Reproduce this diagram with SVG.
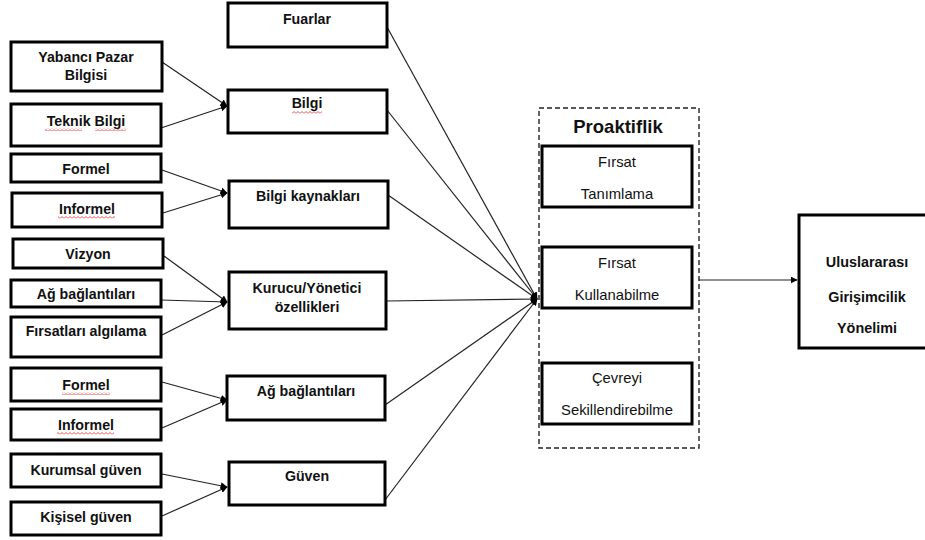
<svg xmlns="http://www.w3.org/2000/svg" width="925" height="540" viewBox="0 0 925 540">
<style>
.box{fill:#fff;stroke:#000;stroke-width:3}
.inner{fill:#fff;stroke:#000;stroke-width:3}
.t{font-family:"Liberation Sans",Arial,sans-serif;font-size:14.2px;font-weight:bold;fill:#111;text-anchor:middle}
.tm{font-family:"Liberation Sans",Arial,sans-serif;font-size:14.2px;font-weight:bold;fill:#111;text-anchor:middle}
.tn{font-family:"Liberation Sans",Arial,sans-serif;font-size:14.8px;fill:#111;text-anchor:middle}
.tu{font-family:"Liberation Sans",Arial,sans-serif;font-size:14.4px;font-weight:bold;fill:#111;text-anchor:middle}
.title{font-family:"Liberation Sans",Arial,sans-serif;font-size:18.5px;font-weight:bold;fill:#111;text-anchor:middle}
.c{fill:none;stroke:#222;stroke-width:1.2}
.dash{fill:none;stroke:#222;stroke-width:1.4;stroke-dasharray:5,3}
</style>
<defs>
<marker id="ah" viewBox="0 0 10 10" refX="9" refY="5" markerWidth="7" markerHeight="7" markerUnits="userSpaceOnUse" orient="auto">
<path d="M0,0 L10,5 L0,10 z" fill="#000"/>
</marker>
<pattern id="wave" width="4" height="3" patternUnits="userSpaceOnUse">
<path d="M0,2.5 L2,0.5 L4,2.5" fill="none" stroke="#e02020" stroke-width="0.8"/>
</pattern>
</defs>

<g id="connectors">
<line class="c" x1="162" y1="62" x2="227" y2="106" marker-end="url(#ah)"/>
<line class="c" x1="161" y1="128" x2="227" y2="106" marker-end="url(#ah)"/>
<line class="c" x1="162" y1="170" x2="227" y2="193" marker-end="url(#ah)"/>
<line class="c" x1="163" y1="213" x2="227" y2="193" marker-end="url(#ah)"/>
<line class="c" x1="164" y1="256" x2="227" y2="302" marker-end="url(#ah)"/>
<line class="c" x1="161" y1="300" x2="227" y2="302" marker-end="url(#ah)"/>
<line class="c" x1="162" y1="335" x2="227" y2="302" marker-end="url(#ah)"/>
<line class="c" x1="162" y1="382" x2="227" y2="400" marker-end="url(#ah)"/>
<line class="c" x1="162" y1="428" x2="227" y2="400" marker-end="url(#ah)"/>
<line class="c" x1="162" y1="474" x2="227" y2="487" marker-end="url(#ah)"/>
<line class="c" x1="162" y1="516" x2="227" y2="487" marker-end="url(#ah)"/>
<line class="c" x1="387" y1="27" x2="537" y2="299" marker-end="url(#ah)"/>
<line class="c" x1="387" y1="110" x2="537" y2="299" marker-end="url(#ah)"/>
<line class="c" x1="388" y1="195" x2="537" y2="299" marker-end="url(#ah)"/>
<line class="c" x1="386" y1="301" x2="537" y2="299" marker-end="url(#ah)"/>
<line class="c" x1="385" y1="405" x2="537" y2="299" marker-end="url(#ah)"/>
<line class="c" x1="385" y1="500" x2="537" y2="299" marker-end="url(#ah)"/>
<line class="c" x1="699" y1="280" x2="797" y2="280" marker-end="url(#ah)"/>
</g>

<g id="n-yabanci"><rect class="box" x="11" y="42" width="151" height="49"/><text class="t" x="86" y="62">Yabancı Pazar</text><text class="t" x="86" y="80">Bilgisi</text></g>
<g id="n-teknik"><rect class="box" x="11" y="104" width="150" height="42"/><text class="t" x="86" y="126">Teknik Bilgi</text></g>
<g id="n-formel1"><rect class="box" x="11" y="154" width="150" height="28"/><text class="t" x="86" y="174">Formel</text></g>
<g id="n-informel1"><rect class="box" x="12" y="193" width="150" height="34"/><text class="t" x="87" y="214">Informel</text></g>
<g id="n-vizyon"><rect class="box" x="13" y="239" width="150" height="29"/><text class="t" x="88" y="259">Vizyon</text></g>
<g id="n-ag1"><rect class="box" x="11" y="280" width="150" height="27"/><text class="t" x="86" y="299">Ağ bağlantıları</text></g>
<g id="n-firsatlari"><rect class="box" x="11" y="317" width="150" height="40"/><text class="t" x="86" y="336">Fırsatları algılama</text></g>
<g id="n-formel2"><rect class="box" x="11" y="368" width="150" height="33"/><text class="t" x="86" y="390">Formel</text></g>
<g id="n-informel2"><rect class="box" x="11" y="409" width="150" height="31"/><text class="t" x="86" y="430">Informel</text></g>
<g id="n-kurumsal"><rect class="box" x="11" y="454" width="150" height="33"/><text class="t" x="86" y="475">Kurumsal güven</text></g>
<g id="n-kisisel"><rect class="box" x="11" y="502" width="150" height="33"/><text class="t" x="86" y="522">Kişisel güven</text></g>

<g id="n-fuarlar"><rect class="box" x="228" y="3" width="159" height="44"/><text class="tm" x="307" y="24">Fuarlar</text></g>
<g id="n-bilgi"><rect class="box" x="228" y="90" width="159" height="43"/><text class="tm" x="307" y="108">Bilgi</text></g>
<g id="n-bilgikaynak"><rect class="box" x="229" y="181" width="159" height="47"/><text class="tm" x="308" y="201">Bilgi kaynakları</text></g>
<g id="n-kurucu"><rect class="box" x="229" y="272" width="157" height="57"/><text class="tm" x="307" y="293">Kurucu/Yönetici</text><text class="tm" x="307" y="312">özellikleri</text></g>
<g id="n-ag2"><rect class="box" x="227" y="376" width="158" height="44"/><text class="tm" x="306" y="396">Ağ bağlantıları</text></g>
<g id="n-guven"><rect class="box" x="229" y="462" width="156" height="43"/><text class="tm" x="307" y="481">Güven</text></g>

<g id="n-proaktiflik">
<rect class="dash" x="539" y="108" width="160" height="340"/>
<text class="title" x="618" y="133">Proaktiflik</text>
<g id="n-tanimlama"><rect class="inner" x="542" y="146" width="150" height="61"/><text class="tn" x="617" y="167">Fırsat</text><text class="tn" x="617" y="199">Tanımlama</text></g>
<g id="n-kullanabilme"><rect class="inner" x="542" y="247" width="150" height="61"/><text class="tn" x="617" y="268">Fırsat</text><text class="tn" x="617" y="300">Kullanabilme</text></g>
<g id="n-cevreyi"><rect class="inner" x="542" y="363" width="150" height="61"/><text class="tn" x="617" y="383">Çevreyi</text><text class="tn" x="617" y="415">Sekillendirebilme</text></g>
</g>

<g id="n-uluslararasi"><rect class="box" x="799" y="215" width="140" height="133"/><text class="tu" x="867" y="267">Uluslararası</text><text class="tu" x="867" y="302">Girişimcilik</text><text class="tu" x="867" y="333">Yönelimi</text></g>

<g id="spellcheck">
<rect x="292" y="111" width="30" height="3" fill="url(#wave)"/>
<rect x="45" y="128" width="37" height="3" fill="url(#wave)"/>
<rect x="95" y="128" width="31" height="3" fill="url(#wave)"/>
<rect x="58" y="216" width="57" height="3" fill="url(#wave)"/>
<rect x="62" y="392" width="48" height="3" fill="url(#wave)"/>
<rect x="57" y="432" width="57" height="3" fill="url(#wave)"/>
</g>
</svg>
